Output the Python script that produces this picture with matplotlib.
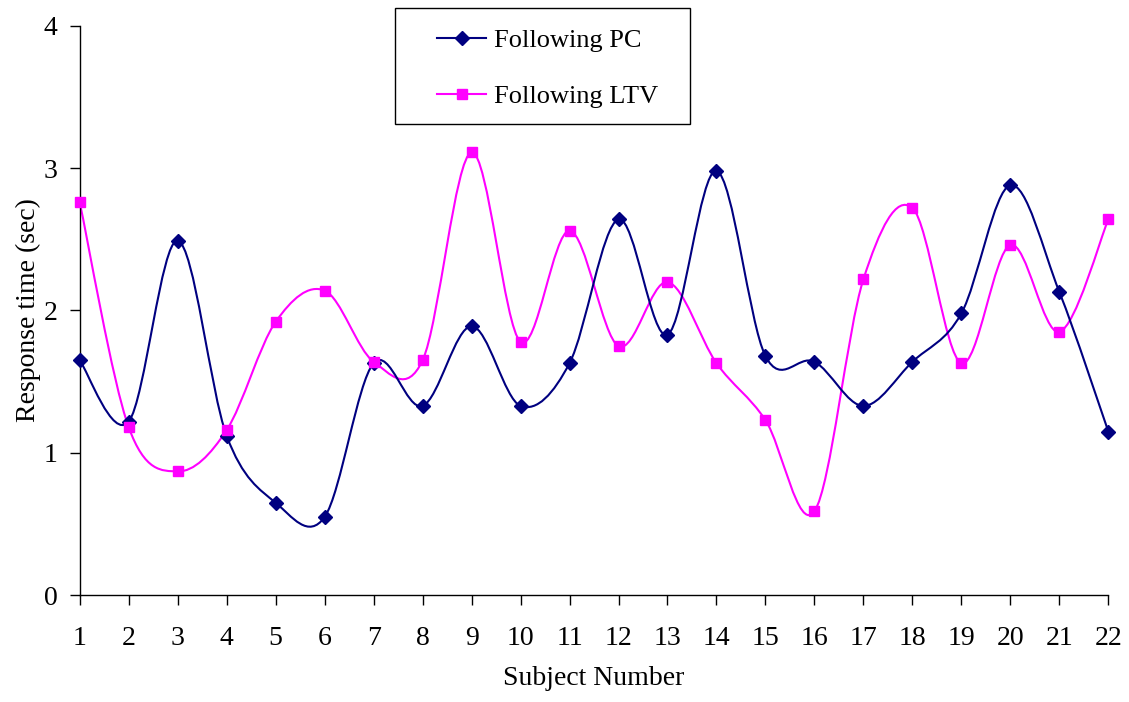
import numpy as np
import matplotlib
matplotlib.use("Agg")
import matplotlib.pyplot as plt
from matplotlib.path import Path
from matplotlib.patches import PathPatch, Rectangle
from matplotlib.lines import Line2D

# Response times per subject (seconds)
subjects = list(range(1, 23))
following_pc = [1.65, 1.22, 2.49, 1.12, 0.65, 0.55, 1.63, 1.33, 1.89, 1.33, 1.63,
                2.64, 1.83, 2.98, 1.68, 1.64, 1.33, 1.64, 1.98, 2.88, 2.13, 1.15]
following_ltv = [2.76, 1.18, 0.87, 1.16, 1.92, 2.14, 1.64, 1.65, 3.11, 1.78, 2.56,
                 1.75, 2.20, 1.63, 1.23, 0.59, 2.22, 2.72, 1.63, 2.46, 1.85, 2.64]
series_labels = ["Following PC", "Following LTV"]
x_ticks = subjects
y_ticks = [0, 1, 2, 3, 4]

plt.rcParams["font.family"] = ["Liberation Serif", "DejaVu Serif"]
FS = 20
LEG_FS = 19


def smooth_path(xs, ys):
    """Cubic Bezier path through the points (Catmull-Rom style smoothing)."""
    pts = np.column_stack([xs, ys]).astype(float)
    n = len(pts)
    verts = [pts[0]]
    codes = [Path.MOVETO]
    for i in range(n - 1):
        p0 = pts[i - 1] if i > 0 else pts[i]
        p1 = pts[i]
        p2 = pts[i + 1]
        p3 = pts[i + 2] if i + 2 < n else pts[i + 1]
        c1 = p1 + (p2 - p0) / 6.0
        c2 = p2 - (p3 - p1) / 6.0
        verts += [c1, c2, p2]
        codes += [Path.CURVE4] * 3
    return Path(verts, codes)


fig = plt.figure(figsize=(11.29, 7.02), dpi=100)
ax = fig.add_axes([0.0706, 0.152, 0.9111, 0.8114])

pc_color = "#000080"
ltv_color = "#FF00FF"

ax.add_patch(PathPatch(smooth_path(subjects, following_pc), facecolor="none",
                       edgecolor=pc_color, lw=1.5, zorder=3))
ax.add_patch(PathPatch(smooth_path(subjects, following_ltv), facecolor="none",
                       edgecolor=ltv_color, lw=1.5, zorder=2))
ax.plot(subjects, following_pc, linestyle="none", marker="D", ms=7.5,
        color=pc_color, zorder=4, clip_on=False)
ax.plot(subjects, following_ltv, linestyle="none", marker="s", ms=7.5,
        color=ltv_color, zorder=4, clip_on=False)

ax.set_xlim(1, 22)
ax.set_ylim(0, 4)
ax.set_xticks(x_ticks)
ax.set_yticks(y_ticks)
ax.tick_params(axis="x", direction="out", length=7, width=1, pad=15, labelsize=FS)
ax.tick_params(axis="y", direction="out", length=7, width=1, pad=9, labelsize=FS)
for side in ("top", "right"):
    ax.spines[side].set_visible(False)
for side in ("left", "bottom"):
    ax.spines[side].set_linewidth(1)

ax.set_xlabel("Subject Number", fontsize=FS, labelpad=11)
fig.text(0.025, 0.5585, "Response time (sec)", fontsize=FS, rotation=90,
         ha="center", va="center")

# Legend with its own frame
fig.patches.append(Rectangle((0.3499, 0.8234), 0.2613, 0.1648, transform=fig.transFigure,
                             facecolor="white", edgecolor="black", lw=1, zorder=5))
handles = [Line2D([], [], color=pc_color, lw=1.5, marker="D", ms=7.5),
           Line2D([], [], color=ltv_color, lw=1.5, marker="s", ms=7.5)]
leg = fig.legend(handles, series_labels, loc="upper left",
                 bbox_to_anchor=(0.3871, 0.9595), bbox_transform=fig.transFigure,
                 frameon=False, fontsize=LEG_FS, borderpad=0, borderaxespad=0,
                 handlelength=1.86, handletextpad=0.3, labelspacing=1.25)
leg.set_zorder(6)

fig.savefig("out.png", dpi=100)
